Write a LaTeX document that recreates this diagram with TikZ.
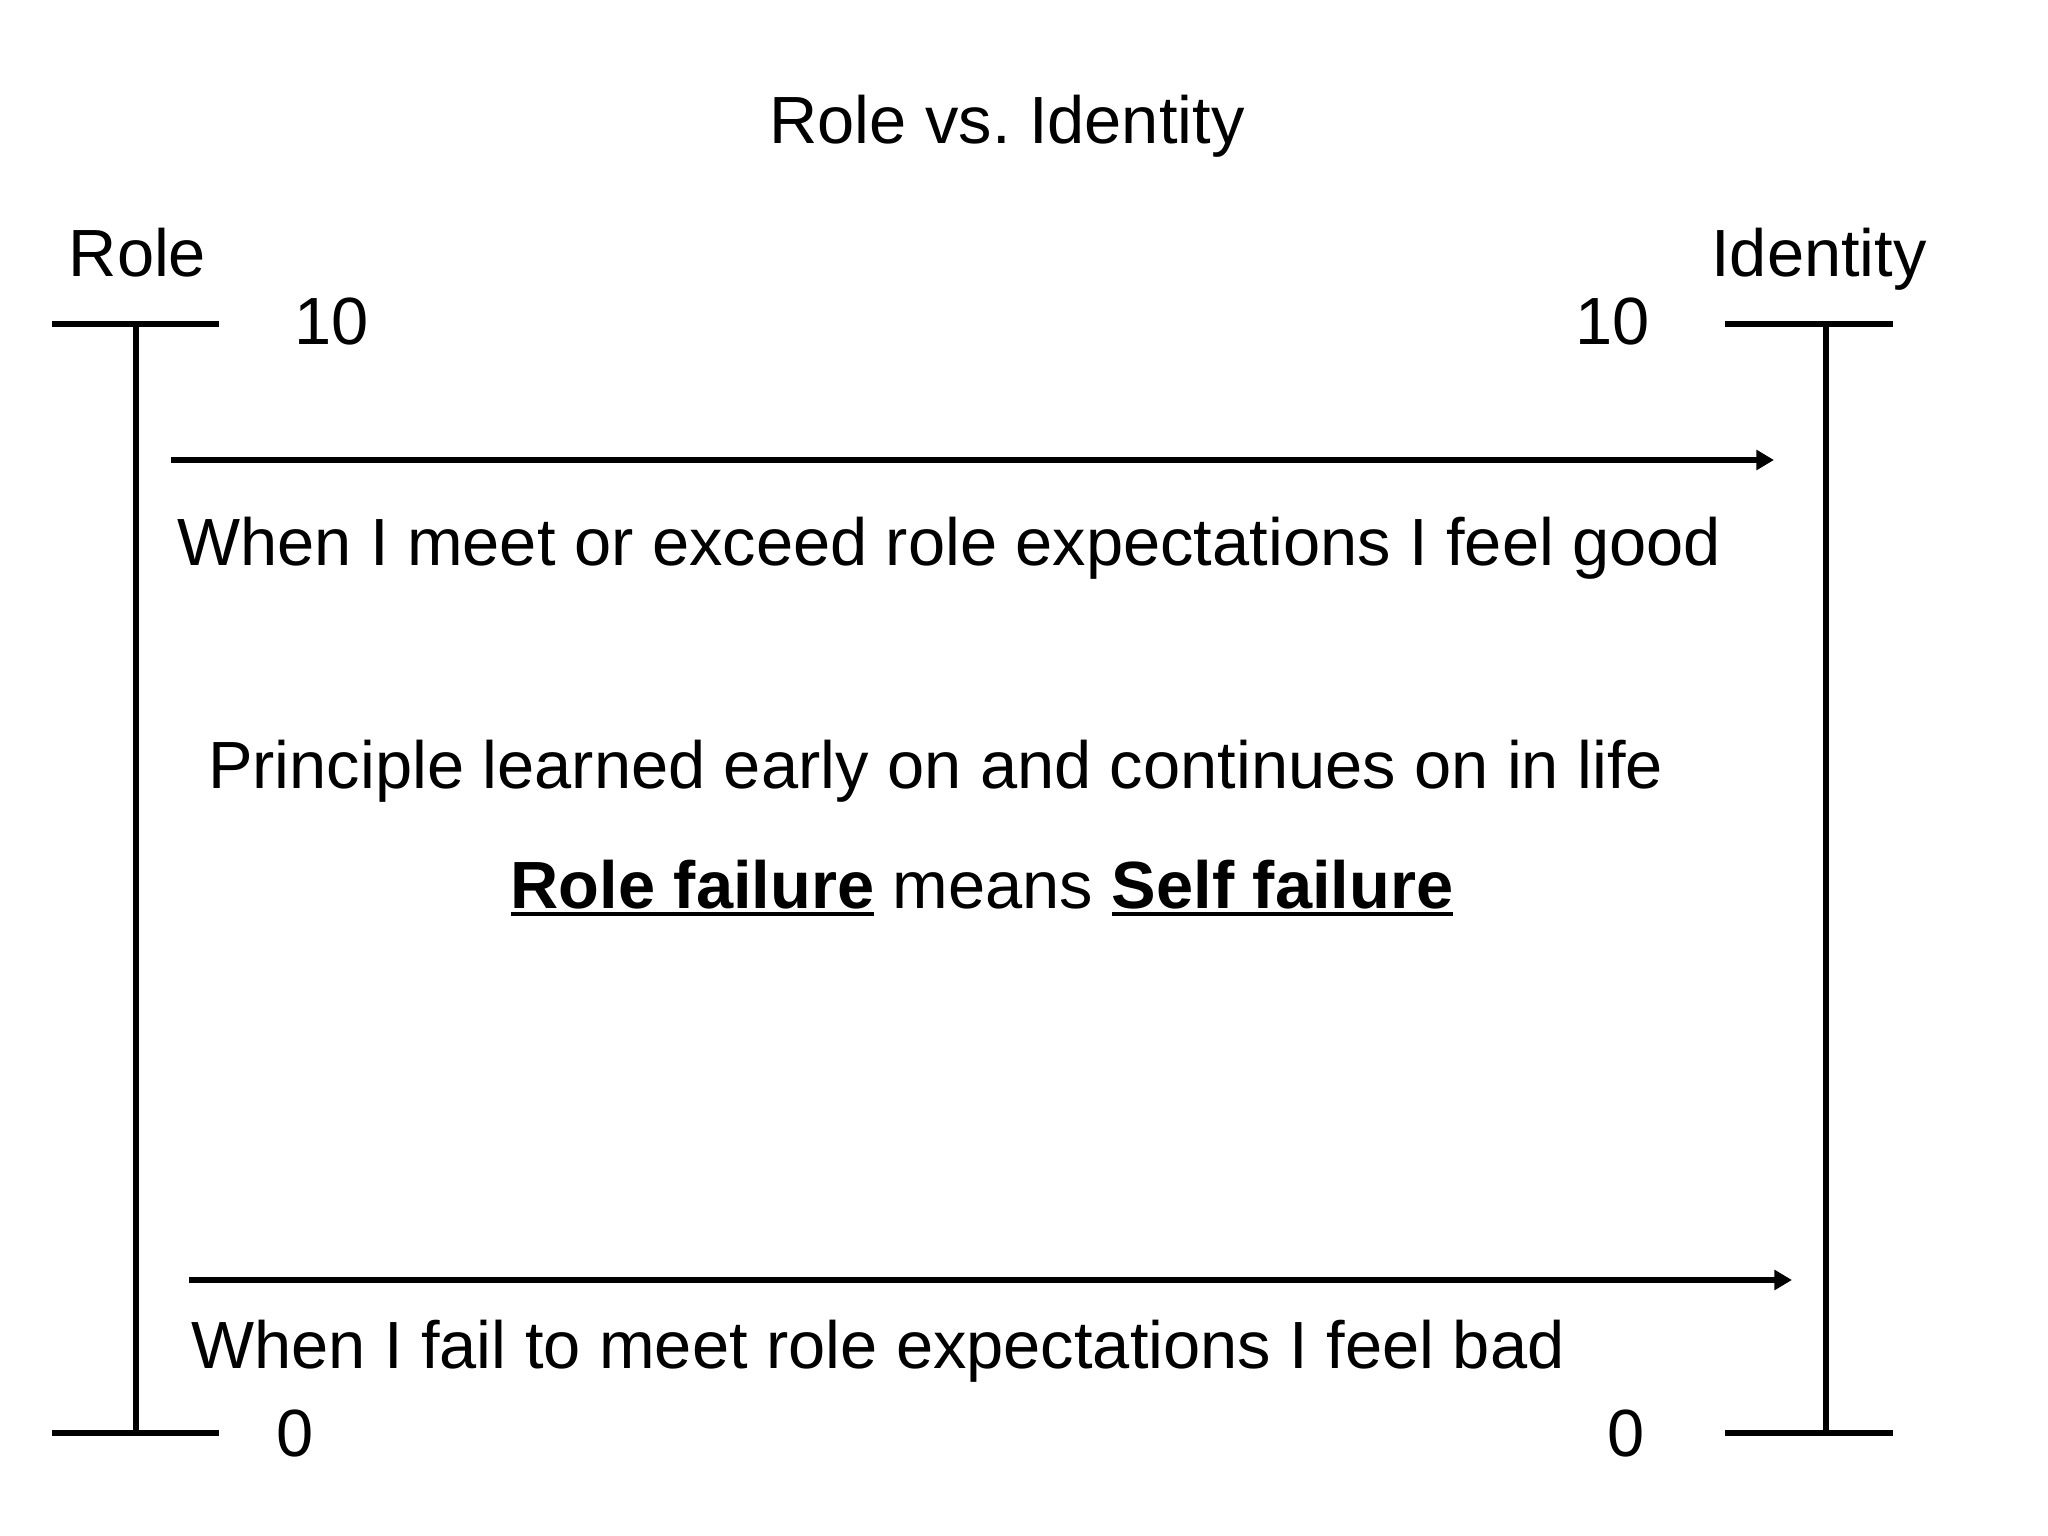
\documentclass[tikz,border=0pt]{standalone}
\usepackage{fontspec}
\setmainfont{Liberation Sans}
\usetikzlibrary{arrows.meta}
\newlength\ulbreite
\newcommand{\unterstr}[1]{\settowidth{\ulbreite}{#1}\rlap{\rule[-2.2pt]{\ulbreite}{0.95pt}}#1}
\begin{document}
\begin{tikzpicture}[y=-1cm, line width=1.8pt,
    every node/.style={font=\fontsize{19}{23}\selectfont, inner sep=0pt, anchor=base}]
        \def\lx{1.36}
        \def\rx{18.26}
        \def\ytop{3.24}
        \def\ybot{14.33}
        \useasboundingbox (0,0) rectangle (20.48,15.36);
        % Titel
        \node (titel) at (10.07,1.44) {Role vs.\ Identity};
        % Skala links
        \node (role) at (1.375,2.77) {Role};
        \coordinate (ltop) at (\lx,\ytop);
        \coordinate (lbot) at (\lx,\ybot);
        \draw (0.52,\ytop) -- (2.19,\ytop);
        \draw (0.52,\ybot) -- (2.19,\ybot);
        \draw (ltop) -- (lbot);
        \node (lten) at (3.32,3.45) {10};
        \node (lnull) at (2.95,14.56) {0};
        % Skala rechts
        \node (identity) at (18.19,2.77) {Identity};
        \coordinate (rtop) at (\rx,\ytop);
        \coordinate (rbot) at (\rx,\ybot);
        \draw (17.25,\ytop) -- (18.93,\ytop);
        \draw (17.25,\ybot) -- (18.93,\ybot);
        \draw (rtop) -- (rbot);
        \node (rten) at (16.13,3.45) {10};
        \node (rnull) at (16.26,14.56) {0};
        % Pfeil oben
        \coordinate (gutA) at (1.71,4.60);
        \coordinate (gutB) at (17.74,4.60);
        \draw[-{Triangle[length=5pt,width=5.5pt]}] (gutA) -- (gutB);
        \node[anchor=base west] (gut) at (1.74,5.66) {When I meet or exceed role expectations I feel good};
        % Mitte
        \node[anchor=base west] (prinzip) at (2.05,7.89) {Principle learned early on and continues on in life};
        \node (folge) at (9.82,9.08) {\textbf{\unterstr{Role failure}} means \textbf{\unterstr{Self failure}}};
        % Pfeil unten
        \coordinate (badA) at (1.89,12.80);
        \coordinate (badB) at (17.92,12.80);
        \draw[-{Triangle[length=5pt,width=5.5pt]}] (badA) -- (badB);
        \node[anchor=base west] (bad) at (1.88,13.68) {When I fail to meet role expectations I feel bad};
    \end{tikzpicture}
\end{document}
